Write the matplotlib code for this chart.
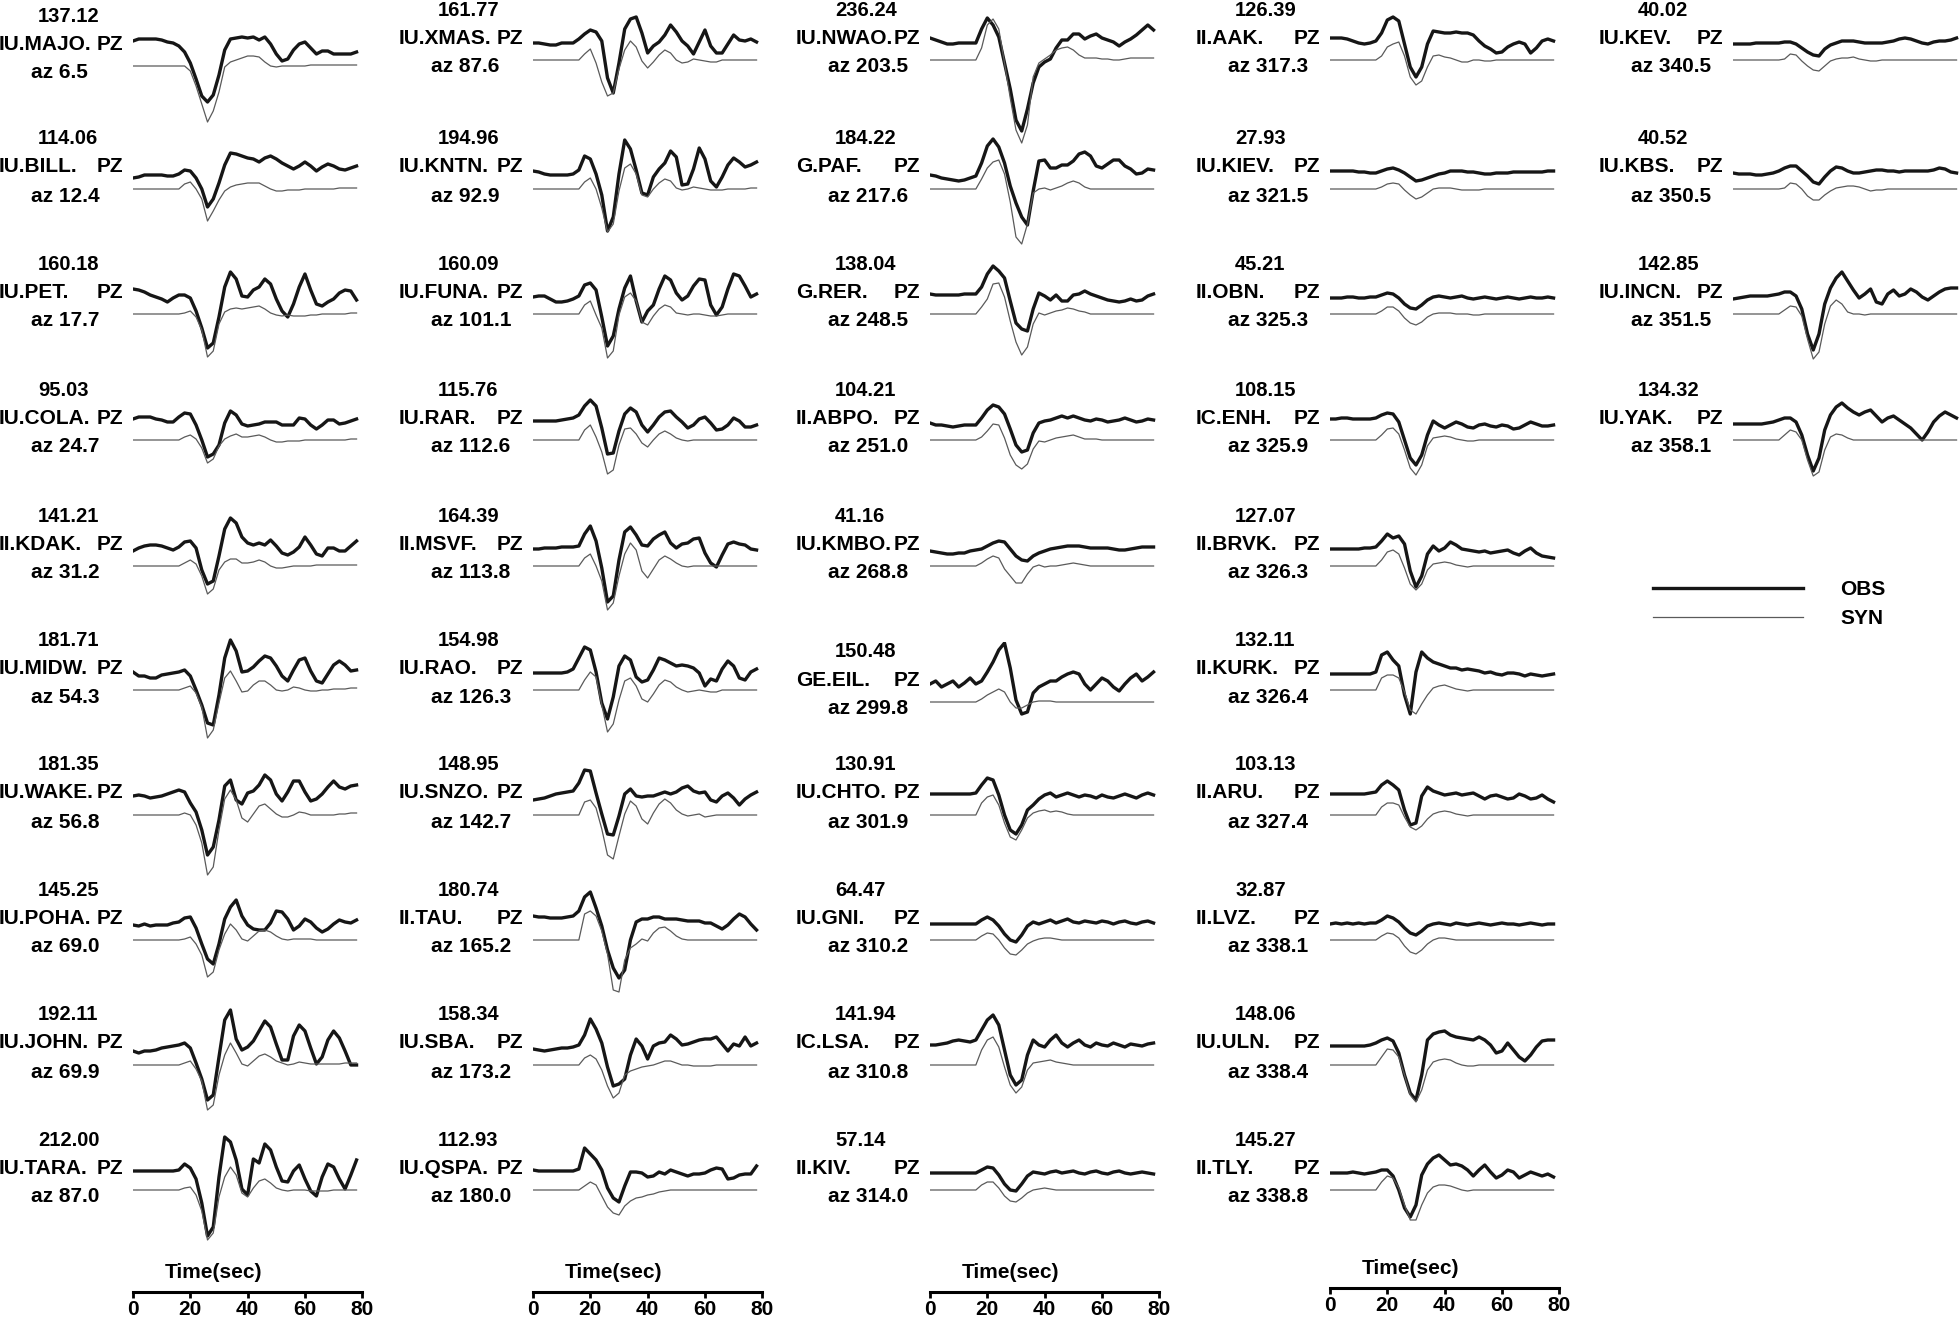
import numpy as np
import matplotlib.pyplot as plt

plt.rcParams['font.family'] = ['Liberation Sans', 'DejaVu Sans']
plt.rcParams['font.weight'] = 'bold'

# sample times (s); amplitudes in px above the synthetic zero line
T = np.arange(0, 80, 2)

# ---- column 1
MAJO_OBS = [25,27,27,27,27,26,24,23,20,14, 3,-13,-30,-36,-29,-9,16,27,28,29, 28,29,26,29,22,12,5,7,16,22, 24,18,12,15,15,12,12,12,12,14]
MAJO_SYN = [0,0,0,0,0,0,0,0,0,0, -5,-20,-38,-56,-45,-26,-1,4,6,8, 10,10,9,4,0,-1,0,0,0,0, 0,1,1,1,1,1,1,1,1,1]
BILL_OBS = [11,12,14,14,14,14,13,13,15,19, 18,11,0,-18,-10,6,24,36,35,33, 31,30,27,31,33,30,26,23,20,23, 27,23,18,22,25,23,20,19,21,23]
BILL_SYN = [0,0,0,0,0,0,0,0,0,5, 7,0,-10,-32,-22,-11,-2,2,4,5, 6,6,6,3,0,-2,-2,-1,-1,-1, 0,0,0,0,0,0,1,1,1,1]
PET_OBS = [25,24,22,19,17,15,12,16,19,19, 16,3,-14,-34,-29,-3,27,42,35,18, 17,24,27,35,30,15,3,-3,10,27, 40,24,10,8,12,15,21,24,23,14]
PET_SYN = [0,0,0,0,0,0,0,0,0,1, 3,-3,-16,-43,-37,-10,2,5,6,5, 6,7,8,5,1,-1,-2,-1,-2,-2, -2,-1,-1,0,0,0,0,0,1,1]
COLA_OBS = [21,23,23,23,21,20,18,18,23,27, 26,15,0,-17,-14,-5,17,29,25,16, 14,15,16,18,18,18,15,15,15,22, 21,15,11,15,20,20,16,17,19,21]
COLA_SYN = [0,0,0,0,0,0,0,0,0,3, 5,1,-8,-23,-19,-6,1,4,6,3, 3,4,5,3,0,-2,-2,-1,-1,-1, 0,0,0,0,0,0,0,0,1,1]
KDAK_OBS = [15,18,20,21,21,20,18,16,19,24, 25,18,-4,-18,-15,10,37,48,43,29, 23,21,23,21,26,20,13,11,14,19, 29,21,12,10,18,18,15,15,20,25]
KDAK_SYN = [0,0,0,0,0,0,0,0,0,3, 6,2,-10,-28,-23,-4,4,7,7,3, 3,4,6,4,0,-2,-2,-1,0,0, 0,0,1,1,1,1,1,1,1,1]
MIDW_OBS = [18,14,14,12,12,15,16,17,18,20, 14,0,-15,-33,-35,-5,32,50,39,18, 19,23,29,34,32,24,14,9,20,30, 32,19,9,7,16,25,29,25,19,20]
MIDW_SYN = [0,0,0,0,0,0,0,0,0,2, 4,-3,-17,-48,-40,-13,12,19,9,-2, -1,5,9,9,5,0,-1,0,3,2, 0,-1,-1,0,0,1,1,1,2,2]
WAKE_OBS = [19,20,19,17,18,19,21,23,25,23, 12,3,-15,-40,-32,-5,29,35,15,11, 22,24,30,40,35,21,14,23,34,34, 23,14,16,21,28,34,28,26,29,30]
WAKE_SYN = [0,0,0,0,0,0,0,0,0,2, 0,-10,-28,-60,-52,-15,16,25,15,-3, -7,1,9,11,6,1,-2,-2,0,3, 2,0,0,0,0,0,1,1,2,2]
POHA_OBS = [15,14,16,14,15,15,15,17,18,22, 23,12,-4,-19,-24,-4,21,33,40,24, 15,11,10,10,17,29,28,21,10,14, 21,18,12,8,11,16,20,18,17,20]
POHA_SYN = [0,0,0,0,0,0,0,0,0,1, 3,-4,-15,-37,-32,-10,6,16,10,1, -1,4,9,10,8,4,1,0,1,1, 1,1,0,0,0,0,0,0,0,0]
JOHN_OBS = [14,12,14,14,15,17,18,19,20,22, 17,2,-14,-35,-30,8,45,55,26,15, 18,24,34,44,38,21,5,5,29,40, 34,17,1,8,25,34,27,14,0,0]
JOHN_SYN = [0,0,0,0,0,0,0,0,0,2, 4,-4,-16,-45,-40,-10,10,22,12,1, -1,4,9,11,8,4,2,0,1,3, 2,1,1,1,1,1,1,2,2,2]
TARA_OBS = [19,19,19,19,19,19,19,19,20,26, 22,11,-13,-46,-37,13,53,48,30,1, -5,31,27,46,40,23,9,8,19,25, 11,-1,-6,13,26,23,11,1,15,30]
TARA_SYN = [0,0,0,0,0,0,0,0,0,2, 3,-5,-21,-50,-43,-7,13,23,15,-3, -7,2,9,11,7,2,0,-1,0,0, 0,-1,-1,-1,-1,0,0,0,0,0]

# ---- column 2
XMAS_OBS = [17,17,16,15,15,17,17,17,21,26, 30,28,19,-18,-33,-3,31,41,43,27, 7,14,18,25,35,28,19,14,6,18, 30,14,7,7,16,25,20,19,21,18]
XMAS_SYN = [0,0,0,0,0,0,0,0,0,6, 11,-3,-22,-36,-33,-9,10,19,13,-1, -8,-2,5,10,7,0,-3,-2,1,0, -1,-2,-2,0,0,0,0,0,0,0]
KNTN_OBS = [18,17,15,14,14,14,14,15,19,33, 30,15,-6,-42,-28,15,49,40,19,-4, -6,12,20,26,38,32,4,5,20,41, 30,8,2,12,24,31,27,22,24,27]
KNTN_SYN = [0,0,0,0,0,0,0,0,0,7, 11,0,-19,-43,-35,-2,21,25,15,-6, -8,0,6,10,8,1,-1,0,2,1, 0,-1,-1,-1,0,0,0,0,1,1]
FUNA_OBS = [17,18,18,15,12,12,13,15,18,29, 31,24,-3,-32,-22,5,26,38,13,-8, 3,9,25,38,34,21,14,18,28,35, 34,9,-1,7,25,40,38,28,17,20]
FUNA_SYN = [0,0,0,0,0,0,0,0,0,9, 13,-1,-14,-44,-37,-1,17,21,13,-8, -11,-2,5,9,7,1,0,-1,0,0, -1,-2,-2,-1,0,0,0,0,0,0]
RAR_OBS = [19,19,19,19,19,20,21,22,25,34, 40,34,12,-14,-13,9,26,32,28,15, 8,15,23,28,29,23,18,12,15,21, 23,17,10,11,15,22,19,13,13,15]
RAR_SYN = [0,0,0,0,0,0,0,0,0,10, 15,3,-12,-34,-30,-5,11,12,6,-3, -7,0,6,9,6,2,0,-1,0,0, 0,0,0,0,0,0,0,0,0,0]
MSVF_OBS = [17,17,18,18,18,19,19,19,20,32, 40,25,-2,-36,-30,6,34,39,31,21, 20,27,31,34,23,18,22,23,27,28, 13,3,-1,11,22,24,22,21,17,16]
MSVF_SYN = [0,0,0,0,0,0,0,0,0,8, 12,0,-15,-44,-37,-10,12,23,16,-5, -12,-3,6,10,7,3,0,-1,0,0, 0,0,0,0,0,0,0,0,0,0]
RAO_OBS = [17,17,17,17,17,17,18,21,32,43, 40,18,-13,-29,-7,24,34,30,13,8, 10,20,32,30,27,24,25,24,22,17, 4,11,9,21,29,24,12,10,18,21]
RAO_SYN = [0,0,0,0,0,0,0,0,0,10, 18,13,-15,-42,-34,-10,9,12,4,-9, -12,-4,5,10,8,3,0,-2,-1,0, -1,-2,-2,0,0,0,0,0,0,0]
SNZO_OBS = [15,16,17,19,21,22,23,24,32,45, 44,22,1,-19,-20,-1,21,26,19,18, 19,19,21,23,21,23,27,29,24,22, 23,15,13,19,22,17,10,16,20,23]
SNZO_SYN = [0,0,0,0,0,0,0,0,0,13, 15,7,-14,-40,-44,-21,1,14,9,-4, -9,2,11,16,12,5,1,-1,0,1, -2,-1,0,0,0,0,0,0,0,0]
TAU_OBS = [24,23,23,22,22,22,23,24,29,43, 48,32,14,-10,-28,-38,-30,0,18,21, 21,23,23,21,21,21,20,19,19,19, 17,17,14,11,15,21,26,23,16,10]
TAU_SYN = [0,0,0,0,0,0,0,0,0,26, 29,24,9,-14,-50,-52,-20,-8,-4,1, -1,7,12,13,9,4,1,0,0,0, 0,0,0,0,0,0,0,0,0,0]
SBA_OBS = [16,15,14,15,16,17,17,18,20,30, 46,36,22,-2,-21,-19,-14,10,26,19, 6,19,22,23,30,26,20,21,23,25, 26,26,28,21,14,21,19,28,19,22]
SBA_SYN = [0,0,0,0,0,0,0,0,0,7, 10,6,-5,-21,-33,-28,-10,-6,-4,-2, -1,0,2,4,4,2,0,0,-1,-1, -1,-1,0,0,0,0,0,0,0,0]
QSPA_OBS = [20,19,19,19,19,19,19,19,21,42, 36,30,20,2,-8,-12,4,18,18,17, 13,14,18,16,20,18,16,14,16,16, 17,20,22,21,11,12,15,16,16,24]
QSPA_SYN = [0,0,0,0,0,0,0,0,0,4, 8,5,-6,-17,-23,-25,-16,-11,-8,-7, -5,-4,-2,-1,0,0,0,0,0,0, 0,0,0,0,0,0,0,0,0,0]

# ---- column 3
NWAO_OBS = [22,20,18,16,16,17,17,17,17,31, 42,35,23,-3,-29,-60,-71,-49,-23,-7, -2,1,12,20,20,26,26,21,24,26, 22,20,18,14,18,21,25,30,35,30]
NWAO_SYN = [0,0,0,0,0,0,0,0,0,12, 35,41,31,-3,-38,-70,-83,-65,-17,-3, 1,5,10,12,13,10,5,2,2,2, 1,1,0,0,1,2,2,2,2,2]
PAF_OBS = [14,13,11,10,9,8,9,11,13,26, 43,50,42,26,3,-14,-28,-36,-2,28, 29,21,21,24,24,28,35,37,33,23, 21,25,29,29,23,20,15,16,20,19]
PAF_SYN = [0,0,0,0,0,0,0,0,0,10, 21,27,29,15,-13,-48,-55,-35,-4,0, 1,-1,1,3,6,8,6,2,0,0, 0,0,0,0,0,0,0,0,0,0]
RER_OBS = [20,19,19,19,19,19,20,20,20,27, 40,48,43,36,13,-9,-15,-17,5,21, 18,14,19,13,13,19,20,23,20,18, 16,14,13,12,13,15,13,14,18,20]
RER_SYN = [0,0,0,0,0,0,0,0,0,7, 15,30,31,17,-7,-28,-41,-33,-10,1, -1,1,3,4,6,5,3,2,0,0, 0,0,0,0,0,0,0,0,0,0]
ABPO_OBS = [17,15,15,14,13,14,15,15,15,22, 30,35,33,26,11,-5,-12,-10,7,17, 19,20,22,24,22,24,22,20,19,21, 20,18,19,20,22,20,18,19,21,20]
ABPO_SYN = [0,0,0,0,0,0,0,0,0,3, 9,16,15,2,-15,-25,-29,-24,-9,-1, -2,0,2,3,4,5,3,1,1,1, 0,0,0,0,0,0,0,0,0,0]
KMBO_OBS = [15,14,13,12,12,13,13,15,16,17, 20,23,25,24,17,10,6,5,10,13, 15,17,18,19,20,20,20,19,18,18, 18,18,17,16,16,17,18,19,19,19]
KMBO_SYN = [0,0,0,0,0,0,0,0,0,3, 7,10,8,-3,-10,-17,-17,-8,-1,1, -1,0,0,1,2,3,2,1,0,0, 0,0,0,0,0,0,0,0,0,0]
EIL_OBS = [18,21,15,18,21,15,19,24,18,21, 30,40,52,59,34,2,-12,-10,9,15, 18,21,21,25,28,30,28,18,12,18, 24,21,15,11,18,24,28,21,25,30]
EIL_SYN = [0,0,0,0,0,0,0,0,0,3, 7,10,13,10,0,-6,-6,-3,0,1, 1,1,0,0,0,0,0,0,0,0, 0,0,0,0,0,0,0,0,0,0]
CHTO_OBS = [21,21,21,21,21,21,21,21,22,30, 37,35,20,0,-15,-19,-10,5,10,16, 20,22,18,20,22,20,18,20,19,17, 20,18,17,19,21,19,17,20,22,20]
CHTO_SYN = [0,0,0,0,0,0,0,0,0,12, 18,20,10,-8,-22,-25,-15,-3,2,4, 5,3,4,3,1,0,0,0,0,0, 0,0,0,0,0,0,0,0,0,0]
GNI_OBS = [16,16,16,16,16,16,16,16,16,20, 23,20,14,6,0,-2,5,14,18,16, 18,20,17,19,21,18,17,19,18,17, 19,18,16,18,19,17,16,18,19,17]
GNI_SYN = [0,0,0,0,0,0,0,0,0,4, 7,6,0,-8,-14,-15,-10,-4,-1,1, 2,2,1,0,0,0,0,0,0,0, 0,0,0,0,0,0,0,0,0,0]
LSA_OBS = [20,20,21,22,24,25,24,23,25,35, 45,50,40,15,-10,-20,-15,10,25,20, 18,25,30,22,18,22,25,20,18,22, 20,19,22,20,18,21,20,19,21,22]
LSA_SYN = [0,0,0,0,0,0,0,0,0,15, 25,28,18,-2,-20,-28,-22,-5,2,3, 4,5,3,2,1,0,0,0,0,0, 0,0,0,0,0,0,0,0,0,0]
KIV_OBS = [17,17,17,17,17,17,17,17,17,20, 23,22,15,6,0,-1,6,14,18,17, 16,18,19,17,18,19,17,16,18,19, 17,16,18,19,17,16,17,18,17,16]
KIV_SYN = [0,0,0,0,0,0,0,0,0,5, 8,8,2,-6,-11,-12,-8,-3,0,1, 2,1,0,0,0,0,0,0,0,0, 0,0,0,0,0,0,0,0,0,0]

# ---- column 4
AAK_OBS = [22,22,22,21,19,17,16,17,19,27, 40,43,39,16,-7,-17,-7,16,29,28, 27,27,28,27,27,25,19,14,11,7, 8,13,16,18,16,7,12,19,21,19]
AAK_SYN = [0,0,0,0,0,0,0,0,0,4, 13,16,18,4,-17,-25,-21,-7,4,5, 3,2,0,-2,-2,0,0,-1,-1,0, 0,0,0,0,0,0,0,0,0,0]
KIEV_OBS = [18,18,18,18,18,17,17,16,16,18, 20,21,19,16,12,8,9,11,13,15, 16,18,18,18,17,17,16,15,15,16, 16,16,17,17,17,17,17,17,18,18]
KIEV_SYN = [0,0,0,0,0,0,0,0,0,2, 5,6,5,-1,-6,-10,-8,-4,0,1, 1,1,0,-1,-1,-1,-1,0,0,0, 0,0,0,0,0,0,0,0,0,0]
OBN_OBS = [16,16,16,17,17,16,16,17,17,19, 21,20,16,10,6,5,9,14,17,18, 17,16,17,18,16,15,16,17,16,15, 16,17,16,15,16,17,16,16,17,16]
OBN_SYN = [0,0,0,0,0,0,0,0,0,3, 7,7,3,-4,-9,-11,-8,-3,0,1, 1,1,0,0,0,-1,-1,0,0,0, 0,0,0,0,0,0,0,0,0,0]
ENH_OBS = [21,21,22,22,21,21,21,21,22,25, 27,26,18,0,-18,-25,-15,5,19,15, 12,15,18,16,13,12,15,16,14,13, 15,14,11,12,15,18,16,14,14,15]
ENH_SYN = [0,0,0,0,0,0,0,0,0,5, 11,12,6,-10,-28,-35,-25,-6,2,3, 4,3,1,0,-1,-1,0,0,0,0, 0,0,0,0,0,0,0,0,0,0]
BRVK_OBS = [17,17,17,17,17,17,18,18,19,25, 32,28,30,22,-5,-21,-10,12,20,15, 18,24,21,17,16,15,14,15,13,14, 15,16,13,11,15,18,13,10,9,8]
BRVK_SYN = [0,0,0,0,0,0,0,0,0,6, 14,16,12,-2,-18,-24,-18,-4,2,3, 4,3,1,0,-1,0,0,0,0,0, 0,0,0,0,0,0,0,0,0,0]
KURK_OBS = [16,16,16,16,16,16,16,16,18,35, 38,30,24,-5,-24,18,38,32,28,26, 24,22,22,20,21,20,19,17,18,16, 15,17,17,16,14,16,15,14,15,16]
KURK_SYN = [0,0,0,0,0,0,0,0,0,12, 15,15,12,-2,-20,-24,-14,-5,2,4, 5,3,1,0,-1,0,0,0,0,0, 0,0,0,0,0,0,0,0,0,0]
ARU_OBS = [21,21,21,21,21,21,21,22,23,30, 34,30,25,5,-10,-8,19,28,24,22, 20,21,22,20,21,22,19,16,19,20, 18,16,17,21,19,16,17,20,16,13]
ARU_SYN = [0,0,0,0,0,0,0,0,0,8, 12,12,10,-2,-12,-15,-11,-4,1,3, 4,3,1,0,-1,0,0,0,0,0, 0,0,0,0,0,0,0,0,0,0]
LVZ_OBS = [16,17,16,17,16,17,16,17,17,20, 24,22,18,12,7,5,9,14,16,17, 16,15,17,16,15,16,17,16,15,16, 17,16,16,15,16,17,16,15,16,16]
LVZ_SYN = [0,0,0,0,0,0,0,0,0,4, 7,6,2,-6,-12,-14,-10,-4,0,2, 2,1,0,0,0,0,0,0,0,0, 0,0,0,0,0,0,0,0,0,0]
ULN_OBS = [19,19,19,19,19,19,19,20,22,25, 27,24,12,-10,-28,-35,-10,25,31,33, 34,30,28,27,26,25,28,25,20,12, 14,22,15,8,4,10,18,24,25,25]
ULN_SYN = [0,0,0,0,0,0,0,0,0,8, 16,15,8,-10,-30,-37,-25,-5,3,5, 6,5,2,0,-1,-1,0,0,0,0, 0,0,0,0,0,0,0,0,0,0]
TLY_OBS = [17,17,17,17,18,17,16,17,18,20, 20,14,0,-18,-27,-15,15,26,32,35, 30,25,26,24,20,14,20,25,18,12, 15,20,18,12,15,18,16,14,16,13]
TLY_SYN = [0,0,0,0,0,0,0,0,0,8, 14,12,2,-15,-30,-30,-15,-3,3,5, 5,4,2,0,-1,0,0,0,0,0, 0,0,0,0,0,0,0,0,0,0]

# ---- column 5
KEV_OBS = [16,16,16,16,17,17,17,17,17,18, 18,16,12,8,5,4,11,15,17,19, 19,19,18,17,17,17,17,18,19,21, 22,21,19,17,16,18,19,19,20,22]
KEV_SYN = [0,0,0,0,0,0,0,0,0,1, 6,5,-1,-6,-10,-11,-6,-1,1,2, 2,3,1,0,-1,-1,0,0,0,0, 0,0,0,0,0,0,0,0,0,0]
KBS_OBS = [16,15,15,15,14,14,15,16,18,21, 23,23,18,13,7,5,12,18,22,21, 18,16,16,17,18,19,19,18,18,17, 18,18,18,18,18,19,21,20,17,16]
KBS_SYN = [0,0,0,0,0,0,0,0,0,1, 6,5,0,-7,-11,-11,-6,-2,1,2, 3,3,2,0,-2,-1,-1,0,0,0, 0,0,0,0,0,0,0,0,0,0]
INCN_OBS = [15,16,17,18,18,18,18,19,20,22, 22,18,5,-20,-36,-20,10,26,36,42, 33,24,16,20,25,12,10,20,24,18, 20,25,22,17,14,18,22,25,26,26]
INCN_SYN = [0,0,0,0,0,0,0,0,0,4, 8,7,-2,-25,-45,-38,-10,8,14,10, 2,0,0,-1,0,0,0,0,0,0, 0,0,0,0,0,0,0,0,0,0]
YAK_OBS = [16,16,16,16,16,16,17,18,20,22, 22,18,5,-15,-31,-18,10,25,33,37, 32,28,25,28,30,24,18,22,24,20, 16,12,6,0,8,18,24,28,25,22]
YAK_SYN = [0,0,0,0,0,0,0,0,0,5, 10,8,0,-20,-36,-32,-10,3,6,5, 2,0,0,0,0,0,0,0,0,0, 0,0,0,0,0,0,0,0,0,0]

STATIONS = [
    ["IU.MAJO.", "IU.BILL.", "IU.PET.", "IU.COLA.", "II.KDAK.", "IU.MIDW.", "IU.WAKE.", "IU.POHA.", "IU.JOHN.", "IU.TARA."],
    ["IU.XMAS.", "IU.KNTN.", "IU.FUNA.", "IU.RAR.", "II.MSVF.", "IU.RAO.", "IU.SNZO.", "II.TAU.", "IU.SBA.", "IU.QSPA."],
    ["IU.NWAO.", "G.PAF.", "G.RER.", "II.ABPO.", "IU.KMBO.", "GE.EIL.", "IU.CHTO.", "IU.GNI.", "IC.LSA.", "II.KIV."],
    ["II.AAK.", "IU.KIEV.", "II.OBN.", "IC.ENH.", "II.BRVK.", "II.KURK.", "II.ARU.", "II.LVZ.", "IU.ULN.", "II.TLY."],
    ["IU.KEV.", "IU.KBS.", "IU.INCN.", "IU.YAK."],
]
AMPS = [
    [137.12, 114.06, 160.18, 95.03, 141.21, 181.71, 181.35, 145.25, 192.11, 212.00],
    [161.77, 194.96, 160.09, 115.76, 164.39, 154.98, 148.95, 180.74, 158.34, 112.93],
    [236.24, 184.22, 138.04, 104.21, 41.16, 150.48, 130.91, 64.47, 141.94, 57.14],
    [126.39, 27.93, 45.21, 108.15, 127.07, 132.11, 103.13, 32.87, 148.06, 145.27],
    [40.02, 40.52, 142.85, 134.32],
]
AZIMUTHS = [
    [6.5, 12.4, 17.7, 24.7, 31.2, 54.3, 56.8, 69.0, 69.9, 87.0],
    [87.6, 92.9, 101.1, 112.6, 113.8, 126.3, 142.7, 165.2, 173.2, 180.0],
    [203.5, 217.6, 248.5, 251.0, 268.8, 299.8, 301.9, 310.2, 310.8, 314.0],
    [317.3, 321.5, 325.3, 325.9, 326.3, 326.4, 327.4, 338.1, 338.4, 338.8],
    [340.5, 350.5, 351.5, 358.1],
]
OBS = [
    [MAJO_OBS, BILL_OBS, PET_OBS, COLA_OBS, KDAK_OBS, MIDW_OBS, WAKE_OBS, POHA_OBS, JOHN_OBS, TARA_OBS],
    [XMAS_OBS, KNTN_OBS, FUNA_OBS, RAR_OBS, MSVF_OBS, RAO_OBS, SNZO_OBS, TAU_OBS, SBA_OBS, QSPA_OBS],
    [NWAO_OBS, PAF_OBS, RER_OBS, ABPO_OBS, KMBO_OBS, EIL_OBS, CHTO_OBS, GNI_OBS, LSA_OBS, KIV_OBS],
    [AAK_OBS, KIEV_OBS, OBN_OBS, ENH_OBS, BRVK_OBS, KURK_OBS, ARU_OBS, LVZ_OBS, ULN_OBS, TLY_OBS],
    [KEV_OBS, KBS_OBS, INCN_OBS, YAK_OBS],
]
SYN = [
    [MAJO_SYN, BILL_SYN, PET_SYN, COLA_SYN, KDAK_SYN, MIDW_SYN, WAKE_SYN, POHA_SYN, JOHN_SYN, TARA_SYN],
    [XMAS_SYN, KNTN_SYN, FUNA_SYN, RAR_SYN, MSVF_SYN, RAO_SYN, SNZO_SYN, TAU_SYN, SBA_SYN, QSPA_SYN],
    [NWAO_SYN, PAF_SYN, RER_SYN, ABPO_SYN, KMBO_SYN, EIL_SYN, CHTO_SYN, GNI_SYN, LSA_SYN, KIV_SYN],
    [AAK_SYN, KIEV_SYN, OBN_SYN, ENH_SYN, BRVK_SYN, KURK_SYN, ARU_SYN, LVZ_SYN, ULN_SYN, TLY_SYN],
    [KEV_SYN, KBS_SYN, INCN_SYN, YAK_SYN],
]

# layout (pixels of the 1960x1322 output)
W, H = 1960, 1322
COL_X0 = [133, 533, 930, 1330, 1733]     # x of t = 0 in each column
ROW_Y = [60, 189, 314, 440, 566, 690, 815, 940, 1065, 1190]   # synthetic zero line
PX_PER_S = 2.866
ROW_SHIFT = {"IU.MAJO.": 6, "GE.EIL.": 12}
OBS_COLOR, SYN_COLOR = '#161616', '#5a5a5a'
FS = 15

fig = plt.figure(figsize=(W / 100, H / 100), dpi=100)


def fx(x):
    return x / W


def fy(y):
    return 1 - y / H


for c in range(5):
    x0 = COL_X0[c]
    for r, code in enumerate(STATIONS[c]):
        assert len(OBS[c][r]) == len(T) and len(SYN[c][r]) == len(T), code
        yb = ROW_Y[r] + ROW_SHIFT.get(code, 0)
        ax = fig.add_axes([fx(x0), fy(yb + 100), 80 * PX_PER_S / W, 160 / H])
        ax.set_xlim(0, 80)
        ax.set_ylim(-100, 60)
        ax.axis('off')
        l_obs, = ax.plot(T, OBS[c][r], color=OBS_COLOR, lw=2.4, solid_joinstyle='round')
        l_syn, = ax.plot(T, SYN[c][r], color=SYN_COLOR, lw=0.9)

        fig.text(fx(x0 - 95), fy(yb - 50), f"{AMPS[c][r]:.2f}", fontsize=14.5,
                 ha='left', va='center')
        fig.text(fx(x0 - 134), fy(yb - 22), code, fontsize=FS, ha='left', va='center')
        fig.text(fx(x0 - 10), fy(yb - 22), "PZ", fontsize=FS, ha='right', va='center')
        fig.text(fx(x0 - 102), fy(yb + 7), f"az {AZIMUTHS[c][r]:.1f}", fontsize=FS,
                 ha='left', va='center')

# time scale bars under the first four columns
for c in range(4):
    x0 = COL_X0[c]
    ya = 1292 if c < 3 else 1288
    tax = fig.add_axes([fx(x0), fy(ya), 80 * PX_PER_S / W, 0.0001])
    tax.set_xlim(0, 80)
    for s in ('left', 'right', 'top'):
        tax.spines[s].set_visible(False)
    tax.spines['bottom'].set_linewidth(2.2)
    tax.set_yticks([])
    tax.set_xticks([0, 20, 40, 60, 80])
    tax.tick_params(axis='x', direction='out', length=4, width=2, pad=2, labelsize=FS)
    fig.text(fx(x0 + 28 * PX_PER_S), fy(ya - 20), "Time(sec)", fontsize=FS,
             ha='center', va='center')

fig.legend([l_obs, l_syn], ["OBS", "SYN"], loc='upper left',
           bbox_to_anchor=(fx(1653), fy(580)), frameon=False, fontsize=FS,
           handlelength=7.2, handletextpad=1.8, labelspacing=0.5, borderpad=0,
           borderaxespad=0)

fig.savefig('out.png', dpi=100)
